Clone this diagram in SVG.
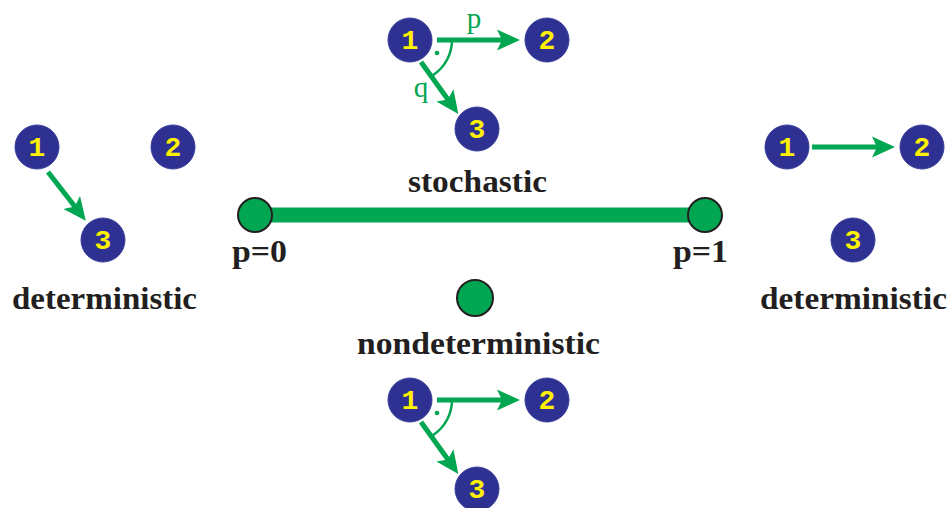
<svg xmlns="http://www.w3.org/2000/svg" width="950" height="508" viewBox="0 0 950 508">
<style>
.node circle{fill:#2e3192;stroke:#3a3f9a;stroke-width:1}
.node text{fill:#fff200;font-family:"Liberation Mono","Courier New",monospace;font-weight:bold;font-size:28px;text-anchor:middle}
.edge{stroke:#00a651;stroke-width:5;fill:none;marker-end:url(#ah)}
.arc{stroke:#00a651;stroke-width:2.5;fill:none}
.lbl{font-family:"Liberation Serif","Times New Roman",serif;font-weight:bold;font-size:31px;fill:#231f20}
.glbl{font-family:"Liberation Serif","Times New Roman",serif;font-size:29px;fill:#00a651}
.pt{fill:#00a651;stroke:#231f20;stroke-width:2}
</style>
<defs>
<marker id="ah" markerUnits="userSpaceOnUse" viewBox="-10 -12 30 24" markerWidth="30" markerHeight="24" refX="0" refY="0" orient="auto" overflow="visible">
<path d="M16,0 L-7,-10.5 L-2,0 L-7,10.5 z" fill="#00a651"/>
</marker>
</defs>

<g id="connectors">
<line class="edge" x1="437" y1="40" x2="504" y2="40"/>
<line class="edge" x1="421" y1="62" x2="449" y2="101"/>
<path class="arc" d="M452,40 A42,42 0 0 1 432.9,75.2"/>
<circle cx="437" cy="53" r="2.3" fill="#00a651"/>
<line class="edge" x1="437" y1="400" x2="504" y2="400"/>
<line class="edge" x1="421" y1="422" x2="449" y2="461"/>
<path class="arc" d="M452,400 A42,42 0 0 1 432.9,435.2"/>
<circle cx="437" cy="413" r="2.3" fill="#00a651"/>
<line class="edge" x1="48" y1="172" x2="76" y2="208"/>
<line class="edge" x1="812" y1="147" x2="879" y2="147"/>
<line x1="255" y1="215" x2="705" y2="215" stroke="#00a651" stroke-width="15"/>
</g>

<g id="top-labels">
<text class="glbl" x="474" y="28" text-anchor="middle">p</text>
<text class="glbl" x="421" y="97" text-anchor="middle">q</text>
</g>

<g id="top-1" class="node"><circle cx="410" cy="40" r="22"/><text x="410" y="49">1</text></g>
<g id="top-2" class="node"><circle cx="547" cy="40" r="22"/><text x="547" y="49">2</text></g>
<g id="top-3" class="node"><circle cx="477" cy="129" r="22"/><text x="477" y="138">3</text></g>

<g id="bot-1" class="node"><circle cx="410" cy="400" r="22"/><text x="410" y="409">1</text></g>
<g id="bot-2" class="node"><circle cx="547" cy="400" r="22"/><text x="547" y="409">2</text></g>
<g id="bot-3" class="node"><circle cx="477" cy="489" r="22"/><text x="477" y="498">3</text></g>

<g id="left-1" class="node"><circle cx="37" cy="147" r="22"/><text x="37" y="156">1</text></g>
<g id="left-2" class="node"><circle cx="173" cy="147" r="22"/><text x="173" y="156">2</text></g>
<g id="left-3" class="node"><circle cx="103" cy="240" r="22"/><text x="103" y="249">3</text></g>

<g id="right-1" class="node"><circle cx="787" cy="147" r="22"/><text x="787" y="156">1</text></g>
<g id="right-2" class="node"><circle cx="922" cy="147" r="22"/><text x="922" y="156">2</text></g>
<g id="right-3" class="node"><circle cx="853" cy="240" r="22"/><text x="853" y="249">3</text></g>

<g id="p0"><circle class="pt" cx="255" cy="215" r="17"/></g>
<g id="p1"><circle class="pt" cx="705" cy="215" r="17"/></g>
<g id="nondet"><circle class="pt" cx="475" cy="298" r="18"/></g>

<g id="labels">
<text class="lbl" x="408" y="192" textLength="139" lengthAdjust="spacingAndGlyphs">stochastic</text>
<text class="lbl" x="232" y="262" textLength="55" lengthAdjust="spacingAndGlyphs">p=0</text>
<text class="lbl" x="673" y="262" textLength="55" lengthAdjust="spacingAndGlyphs">p=1</text>
<text class="lbl" x="12" y="309" textLength="185" lengthAdjust="spacingAndGlyphs">deterministic</text>
<text class="lbl" x="760" y="309" textLength="187" lengthAdjust="spacingAndGlyphs">deterministic</text>
<text class="lbl" x="357" y="354" textLength="243" lengthAdjust="spacingAndGlyphs">nondeterministic</text>
</g>
</svg>
